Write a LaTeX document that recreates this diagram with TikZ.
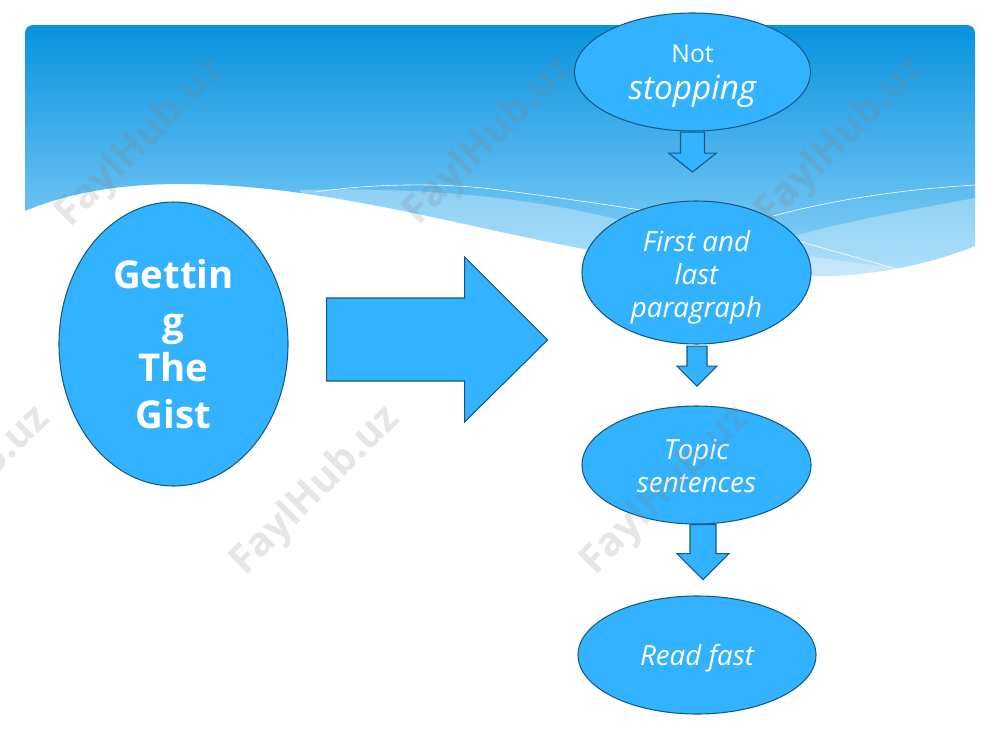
\documentclass[tikz,border=0pt]{standalone}
\usepackage{fontspec}
\setmainfont{Open Sans}
\usetikzlibrary{calc,shapes.geometric}
\definecolor{ABlue}{HTML}{33B3FF}
\definecolor{ABorder}{HTML}{125A87}
\definecolor{ATop}{HTML}{0893DE}
\definecolor{ABottom}{HTML}{8DD2F9}
\tikzset{
    step node/.style = {draw=ABorder, fill=ABlue, ellipse, thick, inner sep=0pt, align=center, text=white},
    blockarrow/.style = {draw=ABorder, fill=ABlue, thick, line join=miter},
    thinwave/.style = {draw=white, line width=.45pt},
    lightwave/.style = {fill=white, opacity=.3},
    watermark/.style = {rotate=45, text=gray, opacity=.2, font=\fontsize{30}{30}\selectfont\bfseries}
}
\def\wavelow{%
    (25,211) .. controls (75,190) and (130,184) .. (180,184) .. controls (300,184) and (420,215) .. (520,236) .. controls (640,262) and (760,278) .. (830,276) .. controls (880,274) and (930,264) .. (975,246)
}
\def\band{%
    \wavelow -- (975,33) arc (0:90:8 and -8) -- (33,25) arc (90:180:8 and -8) -- cycle
}
% half shaft, shaft length, half head, head length
\def\blockdown#1#2#3#4{%
    -- ++(#1,0) -- ++(0,#2) -- ++(#3-#1,0) -- ++(-#3,#4) -- ++(-#3,-#4) -- ++(#3-#1,0) -- ++(0,-#2) -- cycle
}
\begin{document}
\begin{tikzpicture}[x=.75pt,y=-.75pt]
    \useasboundingbox (0,0) rectangle (1000,750);
    % header band
    \shade [top color=ATop, bottom color=ABottom] \band;
    \begin{scope}
        \clip \band;
        \fill [lightwave] (300,190) .. controls (380,188) and (500,190) .. (620,220) .. controls (700,240) and (800,256) .. (897,268) -- (897,300) -- (300,300) -- cycle;
        \fill [lightwave] (780,240) .. controls (840,222) and (910,210) .. (975,198) -- (975,300) -- (780,300) -- cycle;
        \draw [thinwave] (315,192) .. controls (370,184) and (440,182) .. (500,190) .. controls (600,203) and (730,222) .. (805,243) -- (897,269);
        \draw [thinwave] (773,216) .. controls (840,198) and (910,189) .. (975,185);
    \end{scope}
    % steps
    \node [step node, minimum width=171.75pt, minimum height=213pt, font=\fontsize{28.8}{35}\selectfont\bfseries] (gist) at (173.5,344) {Gettin\\g\\The\\Gist};
    \node [step node, minimum width=177pt, minimum height=88.5pt] (notstop) at (692.5,72) {\fontsize{18.5}{24}\selectfont\rule{0pt}{19pt}Not\\[8pt]\fontsize{25}{30}\selectfont\itshape stopping};
    \node [step node, inner sep=-3pt, minimum width=171.75pt, minimum height=107.25pt, font=\fontsize{20.8}{25}\selectfont\itshape] (firstlast) at (696.5,272.5) {\rule{0pt}{23pt}First and\\last\\paragraph};
    \node [step node, minimum width=171.75pt, minimum height=88.5pt, font=\fontsize{20.8}{25}\selectfont\itshape] (topic) at (696.5,465) {\rule{0pt}{17pt}Topic\\sentences};
    \node [step node, minimum width=178.5pt, minimum height=88.5pt, font=\fontsize{20.8}{25}\selectfont\itshape] (readfast) at (697,655) {\rule{0pt}{21pt}Read fast};
    % block arrows
    \draw [blockarrow] (gist.east) ++(38,-46) -- ++(138,0) -- ++(0,-41) -- ++(83,83) -- ++(-83,82) -- ++(0,-41) -- ++(-138,0) -- cycle;
    \draw [blockarrow] (notstop.south) ++(0,.5) \blockdown{12}{21}{24}{19};
    \draw [blockarrow] (firstlast.south) ++(.5,1.5) \blockdown{10}{20}{20}{20};
    \draw [blockarrow] (topic.south) ++(6.5,0) \blockdown{13}{29}{26}{26};
    % watermarks
    \node [watermark] (marka) at (141,143) {FaylHub.uz};
    \node [watermark] (markb) at (489,141) {FaylHub.uz};
    \node [watermark] (markc) at (841,141) {FaylHub.uz};
    \node [watermark] (markd) at (-34,491) {FaylHub.uz};
    \node [watermark] (marke) at (316,491) {FaylHub.uz};
    \node [watermark] (markf) at (666,491) {FaylHub.uz};
\end{tikzpicture}
\end{document}
